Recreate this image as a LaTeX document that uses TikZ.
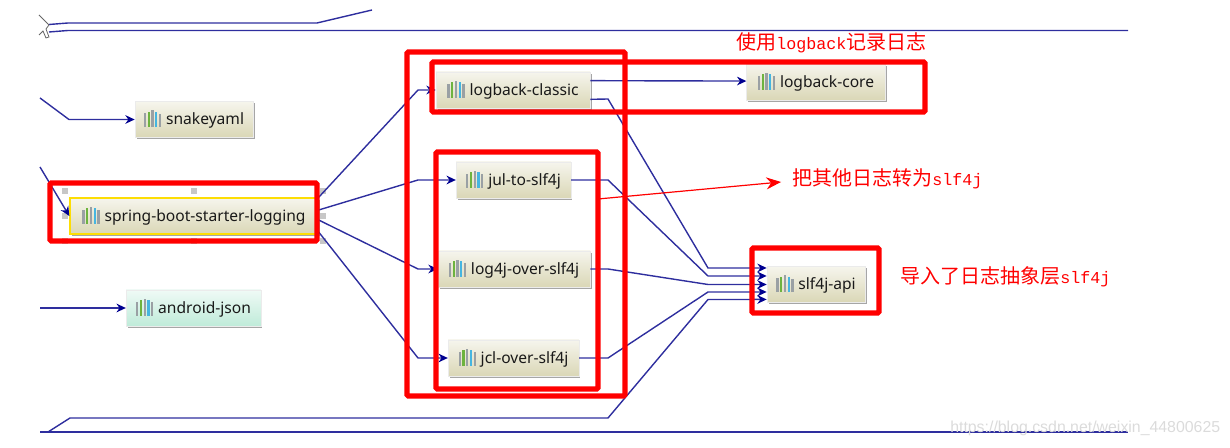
\documentclass[tikz,border=0pt]{standalone}
\usepackage{fontspec}
\usetikzlibrary{shadows,arrows.meta}
\newfontfamily\cjk{Noto Sans CJK SC}
\newfontfamily\nodefont{Noto Sans}
\newfontfamily\latn{Liberation Mono}
\newfontfamily\wmfont{Liberation Sans}
\definecolor{linkblue}{HTML}{2E2E9E}
\definecolor{tipblue}{HTML}{000090}
\definecolor{barg}{HTML}{9AA0A4}
\definecolor{barn}{HTML}{6DB33F}
\definecolor{barb}{HTML}{45B5E0}
\definecolor{nodeolive}{HTML}{DAD7B6}
\definecolor{nodegreen}{HTML}{BFEBD9}
\newcommand{\onebar}[2]{\textcolor{#1}{\rule[-1.8pt]{1.7pt}{#2}}\kern1.1pt}
\newcommand{\barsicon}{\onebar{barg}{10.5pt}\onebar{barn}{11.5pt}\onebar{barg}{12.5pt}\onebar{barb}{11.5pt}\onebar{barg}{10pt}\kern2.6pt}
\newcommand{\mono}[1]{{\fontsize{12.5pt}{14pt}\latn #1}}
\tikzset{
  x=0.75pt,y=-0.75pt,
  dep/.style={inner sep=0pt,minimum height=27pt,font=\nodefont\fontsize{11.7pt}{13pt}\selectfont,text=black!90,
     top color=#1!25!white,bottom color=#1,draw=black!8,line width=0.5pt,
     general shadow={shadow xshift=1.2pt,shadow yshift=-1.2pt,fill=black!35}},
  dep/.default=nodeolive,
  link/.style={draw=linkblue,line width=1.05pt},
  arrow link/.style={link,-{Stealth[length=7pt,width=6.5pt,color=tipblue]}},
  redbox/.style={draw=red,line width=3.9pt,rounded corners=1pt},
  note/.style={text=red,font=\cjk\fontsize{15pt}{18pt}\selectfont,inner sep=0pt,anchor=west},
  handle/.style={fill=black!22,draw=none,minimum size=4.5pt,inner sep=0pt},
}
\begin{document}
\begin{tikzpicture}
\useasboundingbox (0,0) rectangle (1230,448);
% nodes
\node[dep,minimum width=88.5pt] (snake) at (194,119.5) {\barsicon snakeyaml};
\node[dep,minimum width=186pt,draw=yellow!80!orange,line width=1pt] (spring) at (194,216) {\barsicon spring-boot-starter-logging};
\node[dep=nodegreen,minimum width=101pt] (android) at (193.5,308) {\barsicon android-json};
\node[dep,minimum width=115.5pt] (classic) at (513,90) {\barsicon logback-classic};
\node[dep,minimum width=104pt] (core) at (816,82) {\barsicon logback-core};
\node[dep,minimum width=86pt] (jul) at (513.5,180) {\barsicon jul-to-slf4j};
\node[dep,minimum width=114pt] (log4j) at (514,269) {\barsicon log4j-over-slf4j};
\node[dep,minimum width=98pt] (jcl) at (513.5,358) {\barsicon jcl-over-slf4j};
\node[dep,minimum width=73.5pt] (api) at (816,284.5) {\barsicon slf4j-api};
% handles
\foreach \i/\p in {h1/{65,191},h2/{194,191},h3/{323,191},h4/{65,216},h5/{323,216},h6/{65,241},h7/{194,241},h8/{323,241}}
  \node[handle] (\i) at (\p) {};
% free ends and bends
\coordinate (t1) at (49,24.5); \coordinate (t2) at (68,23); \coordinate (t3) at (317,23); \coordinate (t4) at (372,10);
\coordinate (u1) at (49,32); \coordinate (u2) at (68,30.5); \coordinate (u3) at (1128,30.5);
\coordinate (b0) at (40,432); \coordinate (b1) at (1128,432);
\coordinate (w1) at (48,432); \coordinate (w2) at (70,418); \coordinate (w3) at (608,418); \coordinate (w4) at (708,299.5);
\coordinate (s1) at (40,98); \coordinate (s2) at (69,119.5);
\coordinate (s3) at (40,167);
\coordinate (a1) at (40,308);
\coordinate (m1) at (418,90); \coordinate (m2) at (418,180); \coordinate (m3) at (418,269); \coordinate (m4) at (418,358);
\coordinate (r1a) at (608,99); \coordinate (r1b) at (708,268);
\coordinate (r2a) at (608,180); \coordinate (r2b) at (708,276);
\coordinate (r3a) at (608,269); \coordinate (r3b) at (708,284.5);
\coordinate (r4a) at (608,358); \coordinate (r4b) at (708,292);
% connectors
\draw[link] (t1) -- (t2) -- (t3) -- (t4);
\draw[link] (u1) -- (u2) -- (u3);
\draw[link] (b0) -- (b1);
\draw[arrow link] (s1) -- (s2) -- (snake.west);
\draw[arrow link] (s3) -- (spring.west);
\draw[arrow link] (a1) -- (android.west);
\draw[arrow link] ([yshift=14pt]spring.east) -- (m1) -- (classic.west);
\draw[arrow link] ([yshift=4.5pt]spring.east) -- (m2) -- (jul.west);
\draw[arrow link] ([yshift=-3pt]spring.east) -- (m3) -- (log4j.west);
\draw[arrow link] ([yshift=-12pt]spring.east) -- (m4) -- (jcl.west);
\draw[arrow link] ([yshift=7pt]classic.east) -- ([yshift=0.7pt]core.west);
\draw[arrow link] ([yshift=-7pt]classic.east) -- (r1a) -- (r1b) -- ([yshift=12.4pt]api.west);
\draw[arrow link] (jul.east) -- (r2a) -- (r2b) -- ([yshift=6.4pt]api.west);
\draw[arrow link] (log4j.east) -- (r3a) -- (r3b) -- (api.west);
\draw[arrow link] (jcl.east) -- (r4a) -- (r4b) -- ([yshift=-5.6pt]api.west);
\draw[arrow link] (w1) -- (w2) -- (w3) -- (w4) -- ([yshift=-11.2pt]api.west);
% cursor
\draw[black!60,line width=0.6pt] (39,15) -- (49,25) -- (46,29) -- (49,37) -- (46,38) -- (43,31) -- (39,35);
% red boxes
\draw[redbox] (407,52) rectangle (625,396);
\draw[redbox] (432,62) rectangle (925,112);
\draw[redbox] (436,152) rectangle (598,389);
\draw[redbox] (752,248) rectangle (879,313);
\draw[redbox] (50,183) rectangle (317,241);
% annotations
\node[note] (n1) at (736,43) {使用\mono{logback}记录日志};
\node[note] (n2) at (792,179) {把其他日志转为\mono{slf4j}};
\node[note] (n3) at (900,277) {导入了日志抽象层\mono{slf4j}};
\coordinate (p1) at (598,199);
\coordinate (p2) at (781,182);
\draw[red,line width=0.9pt,-{Stealth[length=11pt,width=9pt]}] (p1) -- (p2);
% watermark
\node[inner sep=0pt,anchor=west,text=black!14,font=\wmfont\fontsize{11.9pt}{13pt}\selectfont] (wm) at (950,428) {https://blog.csdn.net/weixin\_44800625};
\end{tikzpicture}
\end{document}
